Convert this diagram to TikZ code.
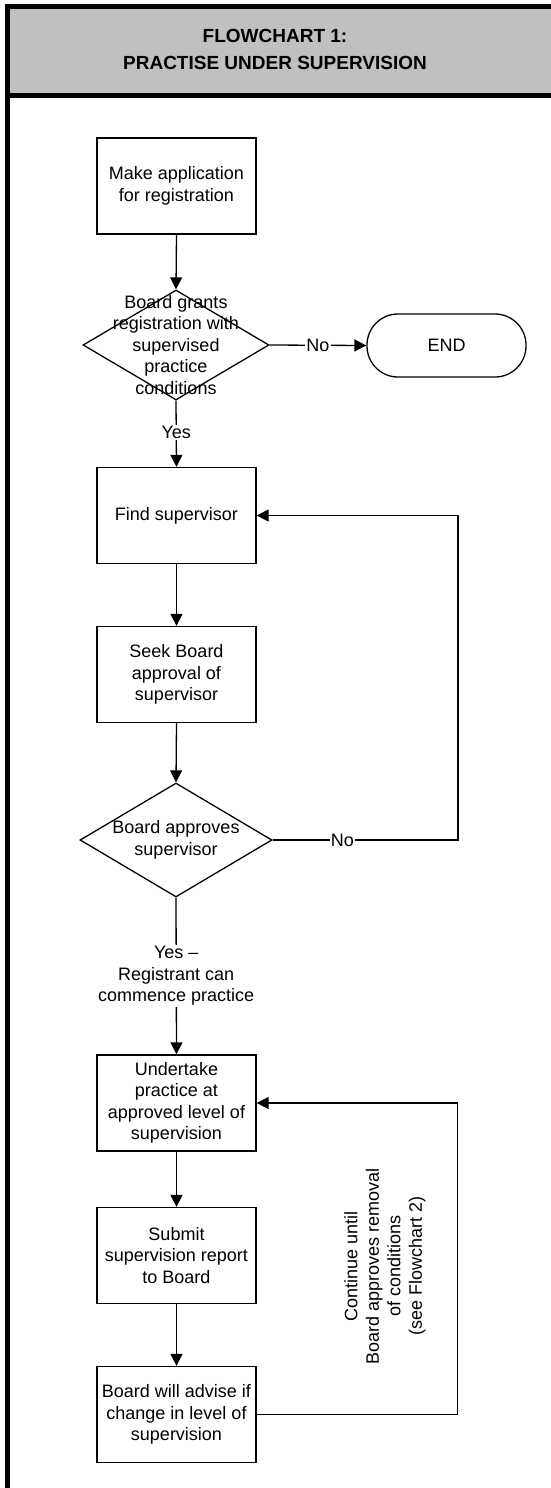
\documentclass[tikz,border=0pt]{standalone}
\usepackage{fontspec}
\setmainfont{Liberation Sans}
\usetikzlibrary{shapes.geometric,arrows.meta}
\begin{document}
\begin{tikzpicture}[x=1pt,y=-1pt,
  txt/.style={font=\fontsize{18}{21.5}\selectfont,align=center},
  box/.style={txt,draw,line width=1.3pt,minimum width=159pt,minimum height=96pt,inner sep=0pt},
  dia/.style={draw,diamond,line width=1.3pt,inner sep=0pt},
  term/.style={txt,draw,line width=1.3pt,rounded corners=31pt,minimum width=159pt,minimum height=63pt,inner sep=0pt},
  conn/.style={line width=1.3pt},
  arr/.style={conn,-{Triangle[length=12pt,width=12pt]}},
  lab/.style={txt,fill=white,inner sep=1pt}
]
\clip (0,0) rectangle (551,1488);
% frame and header
\draw[line width=5pt,fill={rgb,255:red,192;green,192;blue,192}] (7.5,6.5) rectangle (620,95.5);
\draw[line width=5pt] (7.5,95.5) -- (7.5,1520);
\node[font=\fontsize{19}{27}\selectfont\bfseries,align=center] (title) at (275,49) {FLOWCHART 1:\\PRACTISE UNDER SUPERVISION};

% nodes
\node[box] (app) at (176.5,186) {Make application\\for registration};
\node[dia,minimum width=186pt,minimum height=110pt] (d1) at (176,345) {};
\node[txt] (d1t) at (d1.center) {Board grants\\registration with\\supervised\\practice\\conditions};
\node[term] (end) at (446.5,345.5) {END};
\node[box] (find) at (176.5,515.5) {Find supervisor};
\node[box] (seek) at (176.5,674.5) {Seek Board\\approval of\\supervisor};
\node[dia,minimum width=192pt,minimum height=114pt] (d2) at (176,840) {};
\node[txt] (d2t) at (d2.center) {Board approves\\supervisor};
\node[box] (under) at (176.5,1103) {Undertake\\practice at\\approved level of\\supervision};
\node[box] (submit) at (176.5,1255.5) {Submit\\supervision report\\to Board};
\node[box] (advise) at (176.5,1414.5) {Board will advise if\\change in level of\\supervision};
\node[txt,rotate=90] (cont) at (385,1266) {Continue until\\Board approves removal\\of conditions\\(see Flowchart 2)};

\coordinate (r1a) at (458,840);
\coordinate (r1b) at (458,515.5);
\coordinate (r2a) at (457.5,1414.5);
\coordinate (r2b) at (457.5,1103);

% connectors
\draw[arr] (app.south) -- (d1.north);
\draw[arr] (d1.east) -- node[lab]{No} (end.west);
\draw[arr] (d1.south) -- node[lab,pos=0.48]{Yes} (find.north);
\draw[arr] (find.south) -- (seek.north);
\draw[arr] (seek.south) -- (d2.north);
\draw[arr] (d2.east) -- node[lab,pos=0.376]{No} (r1a) -- (r1b) -- (find.east);
\draw[arr] (d2.south) -- node[lab,pos=0.5]{Yes --\\Registrant can\\commence practice} (under.north);
\draw[arr] (under.south) -- (submit.north);
\draw[arr] (submit.south) -- (advise.north);
\draw[arr] (advise.east) -- (r2a) -- (r2b) -- (under.east);
\end{tikzpicture}
\end{document}
